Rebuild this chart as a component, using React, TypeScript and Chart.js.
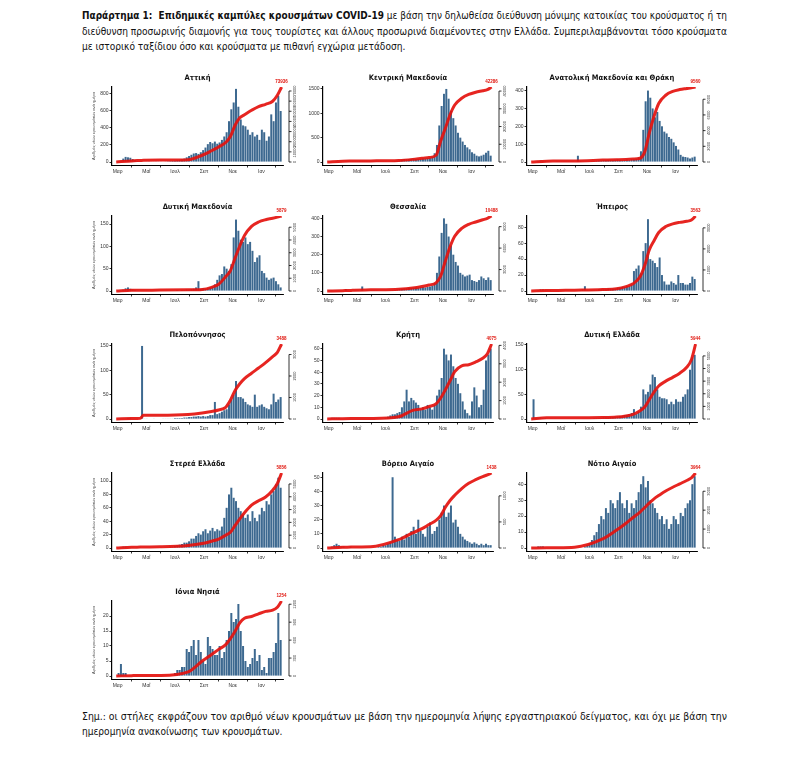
import React, { useEffect, useLayoutEffect, useRef } from "react";
import { Chart, registerables } from "chart.js";
Chart.register(...registerables);

// ---------- DATA ----------
// day index: 0 = 1 March 2020
const BIN_DAYS = [-3, 2, 7, 12, 17, 22, 27, 32, 37, 42, 47, 52, 57, 62, 67, 72, 77, 82, 87, 92, 97, 102, 107, 112, 117, 122, 127, 132, 137, 142, 147, 152, 157, 162, 167, 172, 177, 182, 187, 192, 197, 202, 207, 212, 217, 222, 227, 232, 237, 242, 247, 252, 257, 262, 267, 272, 277, 282, 287, 292, 297, 302, 307, 312, 317, 322, 327, 332, 337, 342, 347];
const X_TICK_DAYS = [0, 61, 122, 184, 245, 306];
const X_TICK_LABELS = ["Μαρ", "Μαΐ", "Ιουλ", "Σεπ", "Νοε", "Ιαν"];
const CUM_DAYS = [-3, 30, 48, 55, 90, 150, 180, 200, 215, 230, 240, 250, 260, 270, 285, 300, 315, 330, 340, 349];

const ATTIKI_NEW = [0, 2, 15, 40, 60, 55, 50, 35, 20, 12, 8, 5, 5, 4, 3, 4, 4, 3, 3, 4, 5, 6, 8, 10, 12, 15, 20, 25, 30, 40, 55, 70, 85, 100, 105, 95, 115, 140, 170, 210, 235, 220, 240, 215, 230, 260, 300, 350, 480, 620, 700, 860, 650, 500, 430, 420, 380, 320, 350, 300, 320, 260, 380, 350, 250, 300, 560, 480, 700, 780, 600];
const ATTIKI_CUM = [0, 1100, 1480, 1630, 1850, 2200, 6650, 11100, 14800, 19200, 25100, 36200, 43600, 46600, 51000, 54700, 56900, 59900, 65800, 73936];

const KMAK_NEW = [0, 0, 5, 10, 15, 12, 10, 8, 6, 5, 4, 3, 2, 2, 1, 1, 1, 1, 1, 2, 2, 3, 3, 4, 5, 6, 8, 10, 15, 20, 25, 35, 50, 60, 55, 60, 65, 70, 60, 65, 70, 75, 70, 80, 90, 110, 180, 350, 750, 1150, 1400, 1500, 1300, 1050, 900, 750, 600, 500, 420, 350, 300, 260, 200, 170, 130, 115, 130, 150, 190, 230, 130];
const KMAK_CUM = [0, 420, 550, 590, 630, 850, 1480, 2110, 2540, 3800, 11840, 19030, 26640, 32140, 35940, 38060, 39330, 40170, 40800, 42286];

const AMTH_NEW = [0, 0, 2, 5, 8, 6, 5, 4, 3, 2, 2, 1, 1, 1, 1, 1, 1, 1, 1, 2, 35, 5, 3, 2, 2, 3, 4, 5, 6, 8, 8, 10, 10, 12, 12, 10, 12, 14, 12, 10, 12, 14, 12, 15, 15, 18, 25, 60, 180, 340, 400, 360, 300, 250, 280, 230, 200, 170, 160, 140, 130, 110, 90, 70, 40, 30, 28, 25, 20, 25, 30];
const AMTH_CUM = [0, 100, 120, 125, 140, 240, 290, 330, 380, 480, 1290, 3730, 5830, 7460, 8510, 8990, 9230, 9370, 9460, 9560];

const DMAK_NEW = [0, 0, 1, 3, 6, 8, 5, 3, 2, 1, 1, 1, 0, 0, 0, 0, 1, 0, 0, 0, 0, 1, 1, 0, 1, 1, 2, 1, 2, 2, 3, 3, 4, 5, 8, 22, 5, 6, 5, 6, 8, 10, 15, 25, 35, 38, 55, 50, 45, 60, 120, 160, 135, 115, 110, 120, 105, 110, 90, 65, 75, 80, 45, 40, 30, 25, 28, 30, 22, 15, 8];
const DMAK_CUM = [0, 60, 65, 67, 70, 90, 120, 290, 530, 1120, 1590, 2590, 3530, 4350, 5060, 5410, 5590, 5700, 5790, 5879];

const THES_NEW = [0, 0, 1, 2, 3, 3, 2, 2, 10, 3, 2, 2, 1, 1, 2, 25, 2, 1, 1, 1, 1, 1, 2, 2, 2, 3, 3, 4, 5, 6, 8, 10, 12, 14, 15, 18, 16, 18, 20, 18, 20, 22, 20, 22, 25, 30, 45, 100, 190, 320, 400, 370, 300, 250, 200, 160, 140, 100, 90, 80, 85, 90, 60, 55, 50, 60, 80, 70, 60, 75, 60];
const THES_CUM = [0, 50, 80, 100, 160, 260, 420, 630, 840, 1150, 2100, 4200, 6190, 7660, 8760, 9330, 9650, 9960, 10170, 10488];

const IPIR_NEW = [0, 0, 0, 1, 2, 2, 1, 1, 1, 0, 0, 0, 0, 0, 0, 0, 0, 0, 0, 0, 0, 1, 2, 6, 1, 1, 1, 1, 1, 2, 2, 2, 2, 3, 3, 3, 3, 4, 4, 5, 5, 6, 6, 8, 25, 28, 32, 22, 50, 60, 90, 40, 38, 35, 30, 42, 20, 12, 8, 8, 12, 10, 8, 20, 10, 10, 8, 8, 10, 18, 15];
const IPIR_CUM = [0, 20, 25, 28, 40, 70, 110, 210, 340, 680, 1210, 1960, 2390, 2780, 3060, 3190, 3260, 3310, 3370, 3563];

const PELO_NEW = [0, 0, 1, 1, 1, 2, 2, 1, 1, 1, 1, 150, 1, 1, 0, 0, 1, 0, 0, 0, 1, 1, 1, 1, 1, 2, 2, 2, 2, 3, 3, 4, 4, 5, 5, 6, 5, 6, 5, 6, 8, 8, 35, 10, 12, 15, 18, 20, 30, 40, 50, 78, 45, 45, 42, 35, 30, 28, 25, 50, 25, 28, 30, 25, 22, 20, 30, 52, 35, 40, 45];
const PELO_CUM = [0, 20, 30, 175, 175, 210, 280, 350, 420, 540, 870, 1330, 1640, 1880, 2130, 2370, 2620, 2900, 3100, 3488];

const KRIT_NEW = [0, 0, 1, 1, 1, 1, 0, 0, 0, 0, 0, 0, 0, 0, 0, 0, 0, 0, 0, 0, 0, 0, 0, 0, 0, 1, 2, 3, 4, 4, 5, 6, 10, 15, 25, 15, 18, 16, 14, 12, 8, 10, 8, 12, 10, 8, 12, 20, 25, 35, 60, 55, 50, 55, 45, 35, 30, 22, 15, 8, 5, 3, 15, 27, 20, 10, 12, 25, 50, 55, 60];
const KRIT_CUM = [0, 20, 25, 25, 30, 120, 470, 550, 670, 820, 1140, 1590, 2080, 2570, 2890, 2950, 3100, 3300, 3550, 4075];

const DELL_NEW = [0, 40, 2, 2, 3, 2, 2, 1, 1, 1, 1, 0, 0, 0, 0, 0, 0, 0, 0, 0, 0, 0, 1, 1, 1, 1, 1, 2, 2, 2, 2, 3, 3, 3, 4, 4, 5, 5, 6, 6, 8, 8, 10, 12, 20, 10, 15, 25, 60, 50, 55, 70, 90, 85, 60, 45, 42, 42, 40, 30, 35, 30, 40, 35, 35, 45, 50, 60, 100, 125, 130];
const DELL_CUM = [0, 90, 90, 90, 95, 110, 150, 240, 360, 650, 950, 1550, 2140, 2620, 3000, 3300, 3630, 4100, 4700, 5944];

const STER_NEW = [0, 0, 1, 2, 2, 1, 1, 1, 0, 1, 1, 0, 0, 0, 0, 0, 0, 0, 0, 1, 0, 1, 1, 2, 2, 3, 4, 5, 6, 8, 8, 10, 14, 14, 18, 22, 20, 25, 28, 22, 26, 30, 25, 28, 26, 32, 45, 60, 80, 90, 75, 70, 60, 55, 50, 45, 50, 40, 55, 45, 40, 50, 60, 55, 70, 65, 80, 85, 95, 105, 90];
const STER_CUM = [0, 60, 70, 75, 90, 200, 350, 530, 700, 1000, 1230, 1760, 2280, 2750, 3340, 3690, 3980, 4510, 5040, 5856];

const BAIG_NEW = [0, 0, 1, 2, 3, 2, 1, 1, 0, 0, 1, 0, 0, 0, 0, 0, 0, 0, 0, 0, 0, 0, 1, 1, 2, 2, 3, 4, 50, 8, 6, 5, 8, 6, 10, 8, 12, 15, 10, 20, 12, 10, 8, 15, 18, 10, 12, 15, 20, 25, 30, 22, 25, 30, 18, 20, 15, 10, 8, 6, 5, 4, 3, 4, 3, 2, 3, 2, 3, 2, 2];
const BAIG_CUM = [0, 15, 17, 19, 22, 160, 290, 370, 450, 530, 620, 780, 910, 1010, 1140, 1240, 1310, 1370, 1400, 1438];

const NAIG_NEW = [0, 0, 0, 1, 1, 1, 0, 0, 0, 0, 0, 0, 0, 0, 0, 0, 0, 0, 0, 0, 0, 0, 0, 1, 2, 3, 5, 8, 10, 15, 20, 18, 25, 22, 30, 28, 25, 30, 35, 28, 25, 30, 22, 28, 25, 30, 35, 40, 45, 38, 42, 30, 28, 25, 22, 18, 20, 15, 18, 12, 15, 20, 18, 15, 22, 20, 25, 28, 30, 40, 45];
const NAIG_CUM = [0, 12, 16, 16, 40, 480, 950, 1310, 1610, 1900, 2140, 2380, 2600, 2770, 3010, 3210, 3390, 3570, 3710, 3964];

const IONI_NEW = [0, 1, 4, 1, 1, 0, 0, 0, 0, 0, 0, 0, 0, 0, 0, 0, 0, 0, 0, 0, 0, 0, 0, 0, 0, 1, 2, 2, 3, 3, 9, 8, 10, 12, 7, 12, 8, 5, 4, 13, 10, 9, 7, 7, 10, 6, 8, 12, 15, 21, 18, 19, 24, 15, 10, 5, 3, 4, 6, 9, 5, 7, 2, 3, 1, 6, 6, 8, 11, 21, 12];
const IONI_CUM = [0, 6, 8, 8, 9, 70, 250, 360, 445, 525, 625, 750, 890, 965, 995, 1040, 1080, 1100, 1150, 1254];

const REGION_NAMES = ["Αττική", "Κεντρική Μακεδονία", "Ανατολική Μακεδονία και Θράκη", "Δυτική Μακεδονία", "Θεσσαλία", "Ήπειρος", "Πελοπόννησος", "Κρήτη", "Δυτική Ελλάδα", "Στερεά Ελλάδα", "Βόρειο Αιγαίο", "Νότιο Αιγαίο", "Ιόνια Νησιά"];
const LEFT_TICKS = [[0, 200, 400, 600, 800], [0, 500, 1000, 1500], [0, 100, 200, 300, 400], [0, 50, 100, 150], [0, 100, 200, 300, 400], [0, 20, 40, 60, 80], [0, 50, 100, 150], [0, 10, 20, 30, 40, 50, 60], [0, 50, 100, 150], [0, 20, 40, 60, 80, 100], [0, 10, 20, 30, 40, 50], [0, 10, 20, 30, 40], [0, 5, 10, 15, 20]];
const LEFT_MAX = [882, 1540, 420, 168, 413, 94, 154, 64, 152, 112, 53, 47, 25];
const RIGHT_TICKS = [[0, 10000, 20000, 30000, 40000, 50000, 60000, 70000], [0, 10000, 20000, 30000, 40000], [0, 2000, 4000, 6000, 8000], [0, 1000, 2000, 3000, 4000, 5000], [0, 3000, 6000, 9000], [0, 1000, 2000, 3000], [0, 1000, 2000, 3000], [0, 1000, 2000, 3000, 4000], [0, 1000, 2000, 3000, 4000, 5000], [0, 1000, 2000, 3000, 4000, 5000], [0, 500, 1000], [0, 1000, 2000, 3000], [0, 300, 600, 900, 1200]];
const Y_TITLE = "Αριθμός νέων κρουσμάτων ανά ημέρα";

const NEW_SERIES = [ATTIKI_NEW, KMAK_NEW, AMTH_NEW, DMAK_NEW, THES_NEW, IPIR_NEW, PELO_NEW, KRIT_NEW, DELL_NEW, STER_NEW, BAIG_NEW, NAIG_NEW, IONI_NEW];
const CUM_SERIES = [ATTIKI_CUM, KMAK_CUM, AMTH_CUM, DMAK_CUM, THES_CUM, IPIR_CUM, PELO_CUM, KRIT_CUM, DELL_CUM, STER_CUM, BAIG_CUM, NAIG_CUM, IONI_CUM];

// ---------- LAYOUT ----------
const COL_LEFT = [112, 323, 527];
const COL_RIGHT = [283, 493, 697];
const ROW_BOTTOM = [165, 294, 422, 551, 679];
const PLOT_H = 78;
const PAD_L = 30;
const PAD_R = 24;
const PAD_T = 9;
const PAD_B = 14;
const TEXT_FONT = "'Liberation Sans Narrow', 'DejaVu Sans Condensed', 'Liberation Sans', sans-serif";
const SMALL_FONT = "'Liberation Sans', 'DejaVu Sans', sans-serif";
const BAR_COLOR = "#3d6990";
const LINE_COLOR = "rgba(228,18,14,0.92)";
const TEXT_LEFT = 82;
const TEXT_WIDTH = 645;

function Panel({ idx }: { idx: number }) {
  const ref = useRef<HTMLCanvasElement | null>(null);
  const col = idx % 3;
  const row = Math.floor(idx / 3);
  const w = COL_RIGHT[col] - COL_LEFT[col] + PAD_L + PAD_R;
  const h = PLOT_H + PAD_T + PAD_B;
  useEffect(() => {
    const canvas = ref.current;
    if (!canvas) return;
    const daily = NEW_SERIES[idx];
    const cum = CUM_SERIES[idx];
    const leftTicks = LEFT_TICKS[idx];
    const leftMax = LEFT_MAX[idx];
    const rightTicks = RIGHT_TICKS[idx];
    const fin = cum[cum.length - 1];
    const showTitle = col === 0;
    const plugin = {
      id: "rAxis" + idx,
      afterDraw(chart: any) {
        const ctx = chart.ctx;
        const ca = chart.chartArea;
        const y1 = chart.scales.y1;
        const xs = chart.scales.x;
        const x0 = ca.right + 6;
        ctx.save();
        ctx.strokeStyle = "#000";
        ctx.lineWidth = 0.8;
        const bot = y1.getPixelForValue(0);
        const top = y1.getPixelForValue(rightTicks[rightTicks.length - 1]);
        ctx.beginPath();
        ctx.moveTo(x0, bot);
        ctx.lineTo(x0, top);
        ctx.stroke();
        ctx.fillStyle = "#333";
        ctx.font = "4px " + SMALL_FONT;
        for (const t of rightTicks) {
          const py = y1.getPixelForValue(t);
          ctx.beginPath();
          ctx.moveTo(x0, py);
          ctx.lineTo(x0 + 2.5, py);
          ctx.stroke();
          ctx.save();
          ctx.translate(x0 + 4, py);
          ctx.rotate(-Math.PI / 2);
          ctx.textAlign = "center";
          ctx.textBaseline = "top";
          ctx.fillText(String(t), 0, 0);
          ctx.restore();
        }
        const lx = xs.getPixelForValue(CUM_DAYS[CUM_DAYS.length - 1]);
        const ly = y1.getPixelForValue(fin);
        ctx.fillStyle = "#e0140c";
        ctx.font = "bold 4.5px " + SMALL_FONT;
        ctx.textAlign = "center";
        ctx.textBaseline = "bottom";
        ctx.fillText(String(fin), lx, ly - 2.5);
        if (showTitle) {
          ctx.save();
          ctx.translate(ca.left - 18, (ca.top + ca.bottom) / 2);
          ctx.rotate(-Math.PI / 2);
          ctx.fillStyle = "#444";
          ctx.font = "4px " + SMALL_FONT;
          ctx.textAlign = "center";
          ctx.textBaseline = "middle";
          ctx.fillText(Y_TITLE, 0, 0);
          ctx.restore();
        }
        ctx.restore();
      },
    };
    const tickFont = { size: 5, family: SMALL_FONT };
    const chart = new Chart(canvas, {
      type: "bar",
      data: {
        datasets: [
          {
            type: "line",
            data: CUM_DAYS.map((d, i) => ({ x: d, y: cum[i] })),
            yAxisID: "y1",
            xAxisID: "x",
            borderColor: LINE_COLOR,
            borderWidth: 3,
            pointRadius: 0,
            cubicInterpolationMode: "monotone",
            order: 0,
          } as any,
          {
            type: "bar",
            data: BIN_DAYS.map((d, i) => ({ x: d, y: daily[i] })),
            yAxisID: "y",
            xAxisID: "x",
            backgroundColor: BAR_COLOR,
            borderWidth: 0,
            barPercentage: 0.85,
            categoryPercentage: 1,
            order: 1,
          } as any,
        ],
      },
      options: {
        animation: false,
        responsive: false,
        devicePixelRatio: 1,
        layout: { padding: { left: 0, right: PAD_R, top: PAD_T, bottom: 0 } },
        plugins: { legend: { display: false }, tooltip: { enabled: false }, title: { display: false } },
        scales: {
          x: {
            type: "linear",
            min: -12,
            max: 352,
            offset: false,
            afterBuildTicks: (s: any) => {
              s.ticks = X_TICK_DAYS.map((v) => ({ value: v }));
            },
            afterFit: (s: any) => {
              s.height = PAD_B;
            },
            ticks: {
              autoSkip: false,
              maxRotation: 0,
              minRotation: 0,
              padding: 1,
              color: "#333",
              font: tickFont,
              callback: (_v: any, i: number) => X_TICK_LABELS[i],
            },
            grid: { display: true, drawOnChartArea: false, drawTicks: true, tickLength: 2.5, color: "#000", lineWidth: 0.8 },
            border: { display: true, color: "#000", width: 1 },
          },
          y: {
            type: "linear",
            position: "left",
            min: -0.04 * leftMax,
            max: leftMax,
            afterBuildTicks: (s: any) => {
              s.ticks = leftTicks.map((v) => ({ value: v }));
            },
            afterFit: (s: any) => {
              s.width = PAD_L;
            },
            ticks: {
              autoSkip: false,
              padding: 1,
              color: "#333",
              font: tickFont,
              callback: (v: any) => String(v),
            },
            grid: { display: true, drawOnChartArea: false, drawTicks: true, tickLength: 2.5, color: "#000", lineWidth: 0.8 },
            border: { display: true, color: "#000", width: 1.2 },
          },
          y1: {
            type: "linear",
            position: "right",
            display: false,
            min: -0.04 * fin,
            max: fin,
          },
        },
      } as any,
      plugins: [plugin],
    });
    return () => chart.destroy();
  }, [idx]);
  return (
    <canvas
      ref={ref}
      width={w}
      height={h}
      style={{
        position: "absolute",
        left: COL_LEFT[col] - PAD_L,
        top: ROW_BOTTOM[row] - PLOT_H - PAD_T,
        width: w,
        height: h,
      }}
    />
  );
}

const HEADER_BOLD = "Παράρτημα 1:  Επιδημικές καμπύλες κρουσμάτων COVID-19";
const HEADER_LINES = [
  " με βάση την δηλωθείσα διεύθυνση μόνιμης κατοικίας του κρούσματος ή τη",
  "διεύθυνση προσωρινής διαμονής για τους τουρίστες και άλλους προσωρινά διαμένοντες στην Ελλάδα. Συμπεριλαμβάνονται τόσο κρούσματα",
  "με ιστορικό ταξίδιου όσο και κρούσματα με πιθανή εγχώρια μετάδοση.",
];
const FOOTER_LINES = [
  "Σημ.: οι στήλες εκφράζουν τον αριθμό νέων κρουσμάτων με βάση την ημερομηνία λήψης εργαστηριακού δείγματος, και όχι με βάση την",
  "ημερομηνία ανακοίνωσης των κρουσμάτων.",
];

// text lines: [top, justified]
const LINE_TOPS = [9, 25, 40, 710, 725];
const LINE_JUSTIFY = [true, true, false, true, false];

export default function App() {
  const refs = useRef<(HTMLSpanElement | null)[]>([]);
  useLayoutEffect(() => {
    const els = refs.current;
    const w1 = els[1] ? els[1].getBoundingClientRect().width : TEXT_WIDTH;
    const base = TEXT_WIDTH / w1;
    els.forEach((el, i) => {
      if (!el) return;
      const nat = el.getBoundingClientRect().width;
      const k = LINE_JUSTIFY[i] ? TEXT_WIDTH / nat : base;
      el.style.transform = `scaleX(${k})`;
    });
  }, []);
  const spanStyle: React.CSSProperties = {
    position: "absolute",
    left: TEXT_LEFT,
    display: "inline-block",
    whiteSpace: "pre",
    fontFamily: TEXT_FONT,
    fontSize: 10.5,
    lineHeight: "12px",
    color: "#111",
    transformOrigin: "0 0",
  };
  const contents: React.ReactNode[] = [
    (
      <>
        <b>{HEADER_BOLD}</b>
        {HEADER_LINES[0]}
      </>
    ),
    HEADER_LINES[1],
    HEADER_LINES[2],
    FOOTER_LINES[0],
    FOOTER_LINES[1],
  ];
  return (
    <div style={{ position: "absolute", left: 0, top: 0, width: 800, height: 781, background: "#fff", overflow: "hidden" }}>
      {REGION_NAMES.map((_, i) => (
        <Panel key={i} idx={i} />
      ))}
      {REGION_NAMES.map((name, i) => {
        const col = i % 3;
        const row = Math.floor(i / 3);
        return (
          <div
            key={"t" + i}
            style={{
              position: "absolute",
              left: COL_LEFT[col],
              width: COL_RIGHT[col] - COL_LEFT[col],
              top: ROW_BOTTOM[row] - 87 - 5,
              textAlign: "center",
              fontFamily: TEXT_FONT,
              fontWeight: "bold",
              fontSize: 7.5,
              lineHeight: "10px",
              color: "#111",
            }}
          >
            {name}
          </div>
        );
      })}
      {contents.map((c, i) => (
        <span
          key={"l" + i}
          ref={(el) => {
            refs.current[i] = el;
          }}
          style={{ ...spanStyle, top: LINE_TOPS[i] }}
        >
          {c}
        </span>
      ))}
    </div>
  );
}
